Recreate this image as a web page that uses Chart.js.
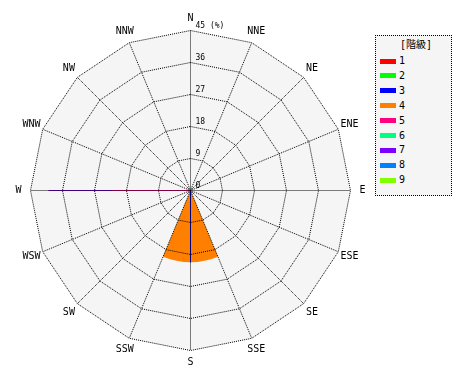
<!DOCTYPE html>
<html><head><meta charset="utf-8">
<script src="https://cdn.jsdelivr.net/npm/chart.js@4/dist/chart.umd.min.js"></script>
<style>
html,body{margin:0;padding:0;background:#fff;}
#wrap{position:relative;width:470px;height:380px;overflow:hidden;}
#c{position:absolute;left:0;top:0;}
#legend{position:absolute;left:375px;top:35px;width:77px;height:161px;box-sizing:border-box;border:1px dotted #000;background:#f5f5f5;font-family:'DejaVu Sans Mono','Noto Sans CJK JP',monospace;font-size:10px;color:#000;}
#legend .lt{position:absolute;left:24px;top:3px;line-height:12px;white-space:nowrap;}
#legend .sw{position:absolute;left:4px;width:16px;height:5px;}
#legend .lb{position:absolute;left:23px;line-height:12px;}
</style></head>
<body><div id="wrap"><canvas id="c" width="470" height="380"></canvas><div id="legend"></div></div>
<script>
// ---- data ----
const directions = ['N','NNE','NE','ENE','E','ESE','SE','SSE','S','SSW','SW','WSW','W','WNW','NW','NNW'];
const classNames = ['1','2','3','4','5','6','7','8','9'];
const classColors = ['#ff0000','#00ff00','#0000ff','#ff8000','#ff0080','#00ff80','#8000ff','#0080ff','#80ff00'];
const legendTitle = '[階級]';
const rTicks = [0, 9, 18, 27, 36, 45];
const unitLabel = '(%)';
// class 4: filled sector per direction (%)
const sectorClass4 = [0,0,0,0,0,0,0,0,20.2,0,0,0,0,0,0,0];
// thin spoke lines per direction (%)
const spokeClass3 = [0,0,0,0,0,0,0,0,20.2,0,0,0,0,0,0,0];
const spokeClass5 = [0,0,0,0,0,0,0,0,0,0,0,0,21.9,0,0,0];
const spokeClass7 = [0,0,0,0,0,0,0,0,0,0,0,0,39.9,0,0,0];

// ---- build datasets ----
const step = 360 / directions.length;
const sectorWidth = 2 * step;
function sectorDatasets(values, color, order) {
  const out = [];
  values.forEach((v, d) => {
    if (!(v > 0)) return;
    const c = d * step, s = c - sectorWidth / 2, e = c + sectorWidth / 2;
    let data, angles;
    if (s >= 0) {
      data = []; angles = [];
      if (s > 0) { data.push(0); angles.push(s); }
      data.push(v); angles.push(sectorWidth);
      if (e < 360) { data.push(0); angles.push(360 - e); }
    } else {
      data = [v, 0, v]; angles = [e, 360 - sectorWidth, -s];
    }
    out.push({
      type: 'polarArea', data: data, order: order,
      backgroundColor: color, borderWidth: 0,
      angle: (ctx) => angles[ctx.dataIndex]
    });
  });
  return out;
}
function spokeDataset(values, color, order) {
  return { type: 'radar', data: values, order: order, borderColor: color, backgroundColor: 'rgba(0,0,0,0)',
           borderWidth: 1, pointRadius: 0, fill: false, tension: 0 };
}
const datasets = [
  spokeDataset(spokeClass5, classColors[4], 1),
  spokeDataset(spokeClass7, classColors[6], 2),
  spokeDataset(spokeClass3, classColors[2], 3),
  ...sectorDatasets(sectorClass4, classColors[3], 10)
];

// ---- plugin: background, labels ----
const FONT = "'DejaVu Sans Mono', 'Noto Sans CJK JP', monospace";
const decor = {
  id: 'decor',
  beforeDraw(chart) {
    const ctx = chart.ctx, s = chart.scales.r;
    ctx.save();
    ctx.translate(0.5, 0.5);
    ctx.beginPath();
    directions.forEach((_, i) => {
      const p = s.getPointPositionForValue(i, s.max);
      if (i === 0) ctx.moveTo(p.x, p.y); else ctx.lineTo(p.x, p.y);
    });
    ctx.closePath();
    ctx.fillStyle = '#f5f5f5';
    ctx.fill();
  },
  afterDraw(chart) {
    const ctx = chart.ctx, s = chart.scales.r;
    ctx.save();
    ctx.fillStyle = '#000';
    // direction labels
    ctx.font = '10px ' + FONT;
    ctx.textAlign = 'center';
    ctx.textBaseline = 'middle';
    directions.forEach((lab, i) => {
      const p = s.getPointPosition(i, s.drawingArea + 12);
      ctx.fillText(lab, p.x, p.y);
    });
    // tick labels
    ctx.font = '8px ' + FONT;
    ctx.textAlign = 'left';
    ctx.textBaseline = 'bottom';
    rTicks.forEach((t) => {
      const p = s.getPointPositionForValue(0, t);
      const txt = t === s.max ? t + ' ' + unitLabel : String(t);
      ctx.fillText(txt, p.x + 5, p.y - 1);
    });
    ctx.restore();
    ctx.restore();
  }
};

new Chart(document.getElementById('c'), {
  type: 'polarArea',
  data: { labels: directions, datasets: datasets },
  options: {
    responsive: false,
    animation: false,
    layout: { padding: { left: 30, right: 120, top: 30, bottom: 30 } },
    plugins: { legend: { display: false }, tooltip: { enabled: false } },
    scales: {
      r: {
        min: 0, max: 45, startAngle: 0,
        ticks: { display: false, stepSize: 9 },
        grid: { display: true, circular: false, color: '#000', lineWidth: 1, z: 1, borderDash: [1, 1] },
        border: { display: false, dash: [1, 1] },
        angleLines: { display: true, color: '#000', lineWidth: 1, borderDash: [1, 1] },
        pointLabels: { display: false }
      }
    }
  },
  plugins: [decor]
});

// ---- HTML legend ----
const lg = document.getElementById('legend');
const tt = document.createElement('div'); tt.className = 'lt'; tt.textContent = legendTitle; lg.appendChild(tt);
classNames.forEach((n, k) => {
  const cy = 25 + 14.9 * k;
  const sw = document.createElement('div'); sw.className = 'sw';
  sw.style.top = (cy - 2.5) + 'px'; sw.style.background = classColors[k]; lg.appendChild(sw);
  const lb = document.createElement('div'); lb.className = 'lb';
  lb.style.top = (cy - 6) + 'px'; lb.textContent = n; lg.appendChild(lb);
});
</script>
</body></html>
